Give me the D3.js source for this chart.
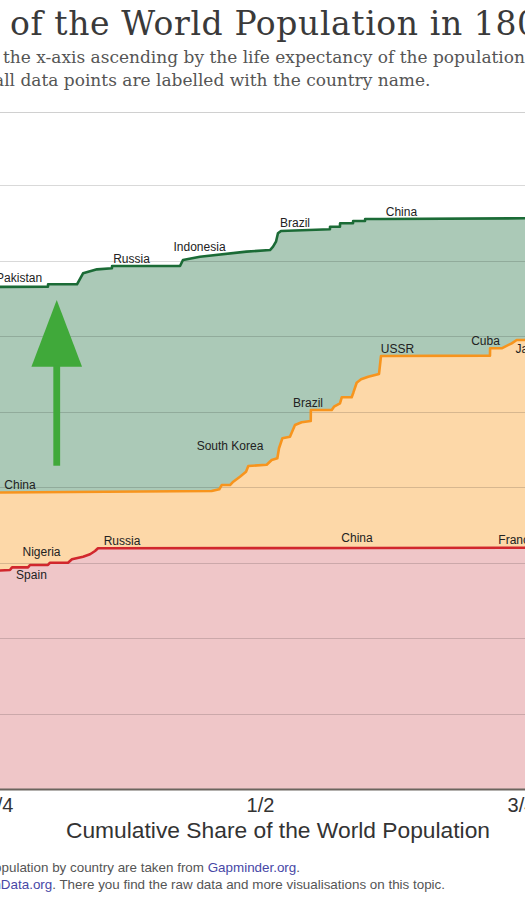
<!DOCTYPE html>
<html>
<head>
<meta charset="utf-8">
<script src="https://cdn.jsdelivr.net/npm/d3@7"></script>
<style>
  html, body { margin: 0; padding: 0; background: #fff; overflow: hidden; }
  svg { display: block; }
</style>
</head>
<body>
<svg id="chart" width="525" height="900"></svg>
<script>
// ---------------- DATA ----------------
// cumulative share of world population (x) and life expectancy (y), per year
const share1800 = [0, 0.05, 0.12, 0.2, 0.245, 0.2605, 0.2625, 0.2778, 0.2797, 0.2969, 0.2989, 0.3161, 0.3199, 0.3305, 0.3372, 0.3420, 0.3448, 0.6, 0.7538, 0.78, 0.85, 0.92, 0.97, 1];
const le1800    = [23, 25, 26.5, 28, 28.9, 29.01, 29.36, 29.36, 29.67, 29.67, 29.97, 29.97, 30.42, 30.77, 31.09, 31.52, 31.88, 31.92, 31.96, 33, 34, 35.5, 37.5, 40];

const share1950 = [0, 0.03, 0.07, 0.10, 0.242, 0.244, 0.2510, 0.4537, 0.4610, 0.4633, 0.4713, 0.4744, 0.4808, 0.4866, 0.4888, 0.5064, 0.5112, 0.5166, 0.5182, 0.5214, 0.5287, 0.5335, 0.5399, 0.5486, 0.5487, 0.5687, 0.5709, 0.5766, 0.5783, 0.5878, 0.5894, 0.5926, 0.5968, 0.6037, 0.6140, 0.6159, 0.7203, 0.7204, 0.7315, 0.7411, 0.7459, 0.7538, 0.78, 0.83, 0.88, 0.94, 1];
const le1950    = [25, 28, 30.5, 32, 33.5, 39.2, 39.27, 39.47, 39.70, 40.26, 40.26, 40.70, 41.36, 42.03, 42.78, 42.95, 43.58, 43.80, 45.13, 46.45, 46.66, 48.21, 48.57, 48.74, 50.20, 50.20, 50.64, 51.09, 51.88, 51.88, 52.49, 53.81, 54.26, 54.61, 54.97, 57.35, 57.40, 58.37, 58.37, 59.03, 59.47, 59.47, 61, 64, 66.5, 69, 72];

const share2012 = [0, 0.03, 0.08, 0.14, 0.20, 0.232, 0.236, 0.2969, 0.2970, 0.3247, 0.3305, 0.3439, 0.3582, 0.3583, 0.4234, 0.4262, 0.4425, 0.4870, 0.5096, 0.5125, 0.5153, 0.5172, 0.5201, 0.5670, 0.5671, 0.5766, 0.5767, 0.5891, 0.5892, 0.6006, 0.6007, 0.6149, 0.7538, 0.80, 0.86, 0.92, 0.97, 1];
const le2012    = [45, 50, 55, 59.5, 63.5, 65.5, 66.5, 66.53, 66.85, 66.85, 68.30, 68.83, 68.97, 69.27, 69.27, 70.07, 70.5, 71.17, 71.39, 71.83, 72.49, 73.60, 73.91, 74.13, 74.48, 74.48, 74.93, 74.93, 75.23, 75.23, 75.50, 75.50, 75.59, 76.5, 78, 80, 81.5, 83];

// country labels: [name, share, life expectancy at label baseline]
const labels1800 = [["Spain", 0.2811, 27.8], ["Nigeria", 0.2907, 30.86], ["Russia", 0.3678, 32.3], ["China", 0.5929, 32.7], ["France", 0.7462, 32.5]];
const labels1950 = [["China", 0.2701, 39.7], ["South Korea", 0.4713, 44.9], ["Brazil", 0.5460, 50.6], ["USSR", 0.6317, 57.8], ["Cuba", 0.7160, 58.8], ["Japan", 0.7605, 57.7]];
const labels2012 = [["Pakistan", 0.2692, 67.15], ["Russia", 0.3769, 69.7], ["Indonesia", 0.4421, 71.3], ["Brazil", 0.5335, 74.5], ["China", 0.6355, 75.9]];

const xTickValues = [0, 0.25, 0.5, 0.75, 1];
const xTickLabels = ["0", "1/4", "1/2", "3/4", "1"];
const yTickValues = [0, 10, 20, 30, 40, 50, 60, 70, 80];

const titleText = "Life Expectancy of the World Population in 1800, 1950 and 2012";
const subtitle1 = "The countries are ordered on the x-axis ascending by the life expectancy of the population in each year.";
const subtitle2 = "To keep the chart readable not all data points are labelled with the country name.";
const xAxisTitle = "Cumulative Share of the World Population";

// ---------------- LAYOUT ----------------
const svg = d3.select("#chart");
const x = d3.scaleLinear().domain([0, 1]).range([-262, 782]);
const y = d3.scaleLinear().domain([0, 80]).range([789, 185]);

const serif = "'DejaVu Serif', Georgia, serif";
const sans = "'Liberation Sans', Arial, Helvetica, sans-serif";

function zip(xs, ys) { return xs.map((s, i) => ({ s, v: ys[i] })); }
const series = [
  { data: zip(share2012, le2012), fill: "#abc9b7", stroke: "#1b6b36", labels: labels2012 },
  { data: zip(share1950, le1950), fill: "#fdd8a8", stroke: "#f7941d", labels: labels1950 },
  { data: zip(share1800, le1800), fill: "#efc6c8", stroke: "#d1272d", labels: labels1800 }
];

// header divider
svg.append("line").attr("x1", 0).attr("x2", 525).attr("y1", 112.5).attr("y2", 112.5)
  .attr("stroke", "#d0d0d0").attr("stroke-width", 1);

// areas
const area = d3.area().x(d => x(d.s)).y0(y(0)).y1(d => y(d.v));
series.forEach(se => {
  svg.append("path").datum(se.data).attr("d", area).attr("fill", se.fill);
});

// gridlines (on top of fills)
svg.append("g").selectAll("line").data(yTickValues.filter(v => v > 0)).join("line")
  .attr("x1", x(0)).attr("x2", x(1))
  .attr("y1", d => Math.round(y(d)) + 0.5).attr("y2", d => Math.round(y(d)) + 0.5)
  .attr("stroke", "#000").attr("stroke-opacity", 0.15).attr("stroke-width", 1);

// lines
const line = d3.line().x(d => x(d.s)).y(d => y(d.v));
series.forEach(se => {
  svg.append("path").datum(se.data).attr("d", line).attr("fill", "none")
    .attr("stroke", se.stroke).attr("stroke-width", 2.6).attr("stroke-linejoin", "round");
});

// country labels
series.forEach(se => {
  svg.append("g").selectAll("text").data(se.labels).join("text")
    .attr("x", d => x(d[1])).attr("y", d => y(d[2]))
    .attr("text-anchor", "middle")
    .attr("font-family", sans).attr("font-size", 12).attr("fill", "#222")
    .text(d => d[0]);
});

// arrow annotation
const arrowShare = 0.3053, arrowTop = 64.77, arrowBase = 55.93, arrowBottom = 42.82;
const ax = x(arrowShare);
svg.append("path")
  .attr("d", `M${ax},${y(arrowTop)} L${ax + 25.3},${y(arrowBase)} L${ax - 25.3},${y(arrowBase)} Z`)
  .attr("fill", "#40a93a");
svg.append("rect").attr("x", ax - 3.4).attr("width", 6.8)
  .attr("y", y(arrowBase) - 1).attr("height", y(arrowBottom) - y(arrowBase) + 1)
  .attr("fill", "#40a93a");

// baseline / x axis
const xAxis = d3.axisBottom(x).tickValues(xTickValues).tickFormat((d, i) => xTickLabels[i]).tickSize(0).tickPadding(9);
const gx = svg.append("g").attr("transform", `translate(0,${y(0)})`).call(xAxis);
gx.select(".domain").attr("stroke", "#6b645e").attr("stroke-width", 2);
gx.selectAll("text").attr("font-family", sans).attr("font-size", 20).attr("fill", "#333");

// y axis (left, outside visible area)
const gy = svg.append("g").attr("transform", `translate(${x(0)},0)`).call(d3.axisLeft(y).tickValues(yTickValues).tickSize(0));
gy.select(".domain").remove();
gy.selectAll("text").attr("font-family", sans).attr("font-size", 20).attr("fill", "#333");

svg.append("text").attr("x", 278).attr("y", 838).attr("text-anchor", "middle")
  .attr("font-family", sans).attr("font-size", 22.8).attr("fill", "#333").text(xAxisTitle);

// title & subtitle, aligned so the visible part sits as in the original
function placeAt(t, sub, targetX) {
  const full = t.text();
  const idx = full.indexOf(sub);
  const off = idx > 0 ? t.node().getSubStringLength(0, idx) : 0;
  t.attr("x", targetX - off);
}
const title = svg.append("text").attr("y", 35).attr("font-family", serif)
  .attr("font-size", 33).attr("letter-spacing", 0.6).attr("fill", "#3a3a3a").text(titleText);
placeAt(title, "of the World", 10);

const st1 = svg.append("text").attr("y", 63).attr("font-family", serif)
  .attr("font-size", 17).attr("fill", "#555").text(subtitle1);
placeAt(st1, "the x-axis", 3);
const st2 = svg.append("text").attr("y", 86).attr("font-family", serif)
  .attr("font-size", 17).attr("fill", "#555").text(subtitle2);
placeAt(st2, "all data", -6);

// footer
const f1 = svg.append("text").attr("x", 300).attr("y", 872).attr("text-anchor", "end")
  .attr("font-family", sans).attr("font-size", 13.4).attr("fill", "#555");
f1.append("tspan").text("Data: The data on life expectancy and population by country are taken from ");
f1.append("tspan").attr("fill", "#4747a6").text("Gapminder.org");
f1.append("tspan").text(".");
const f2 = svg.append("text").attr("x", 445).attr("y", 889).attr("text-anchor", "end")
  .attr("font-family", sans).attr("font-size", 13.4).attr("fill", "#555");
f2.append("tspan").text("This visualisation is taken from ");
f2.append("tspan").attr("fill", "#4747a6").text("OurWorldInData.org");
f2.append("tspan").text(". There you find the raw data and more visualisations on this topic.");
</script>
</body>
</html>
